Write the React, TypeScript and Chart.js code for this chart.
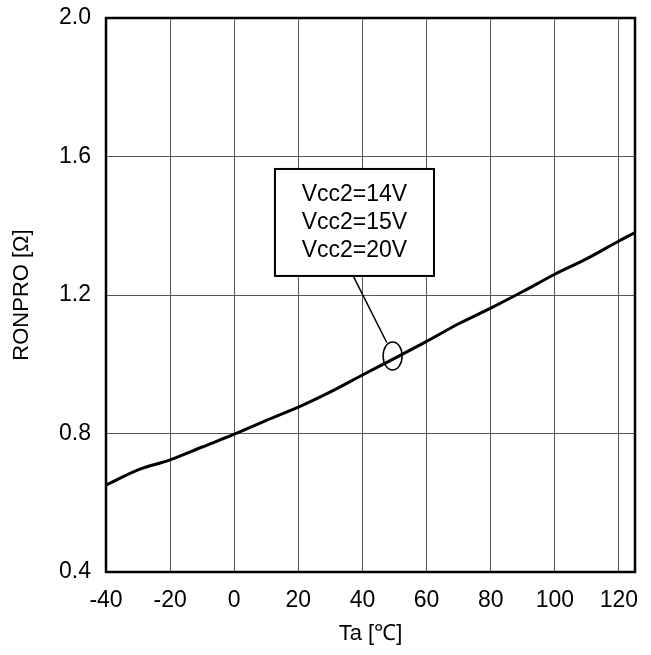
import React, { useEffect, useRef } from "react";
import { Chart, registerables } from "chart.js";

Chart.register(...registerables);

const temps = [-40, -30, -20, -10, 0, 10, 20, 30, 40, 50, 60, 70, 80, 90, 100, 110, 120, 125];
const ronpro = [0.651, 0.695, 0.724, 0.761, 0.798, 0.838, 0.876, 0.92, 0.969, 1.017, 1.066, 1.117, 1.162, 1.21, 1.26, 1.305, 1.356, 1.38];
const xTicks = [-40, -20, 0, 20, 40, 60, 80, 100, 120];
const yTicks = [0.4, 0.8, 1.2, 1.6, 2.0];
const legendLines = ["Vcc2=14V", "Vcc2=15V", "Vcc2=20V"];

const FONT = "Arial, 'Liberation Sans', sans-serif";

const framePlugin = {
  id: "frame",
  afterDatasetsDraw(chart: any) {
    const { ctx, chartArea, scales } = chart;
    const x = scales.x;
    const y = scales.y;
    ctx.save();
    // annotation box
    const bl = x.getPixelForValue(12.7);
    const br = x.getPixelForValue(62.3);
    const bt = y.getPixelForValue(1.564);
    const bb = y.getPixelForValue(1.255);
    ctx.fillStyle = "#fff";
    ctx.fillRect(bl, bt, br - bl, bb - bt);
    ctx.strokeStyle = "#000";
    ctx.lineWidth = 2;
    ctx.strokeRect(bl, bt, br - bl, bb - bt);
    ctx.fillStyle = "#000";
    ctx.font = "23px " + FONT;
    ctx.textAlign = "center";
    ctx.textBaseline = "middle";
    const cx = (bl + br) / 2;
    const lh = 28;
    const cy = (bt + bb) / 2;
    legendLines.forEach((t, i) => {
      ctx.fillText(t, cx, cy + (i - 1) * lh);
    });
    // leader line
    ctx.lineWidth = 1.5;
    ctx.beginPath();
    ctx.moveTo(x.getPixelForValue(37.1), bb);
    ctx.lineTo(x.getPixelForValue(47.6), y.getPixelForValue(1.062));
    ctx.stroke();
    // ellipse
    ctx.lineWidth = 1.5;
    ctx.beginPath();
    ctx.ellipse(x.getPixelForValue(49.4), y.getPixelForValue(1.024), 9.5, 14, 0, 0, Math.PI * 2);
    ctx.stroke();
    // frame
    ctx.lineWidth = 2.5;
    ctx.strokeRect(chartArea.left, chartArea.top, chartArea.right - chartArea.left, chartArea.bottom - chartArea.top);
    ctx.restore();
  },
};

export default function App() {
  const ref = useRef<HTMLCanvasElement>(null);
  useEffect(() => {
    if (!ref.current) return;
    const chart = new Chart(ref.current, {
      type: "line",
      data: {
        datasets: [
          {
            data: temps.map((t, i) => ({ x: t, y: ronpro[i] })),
            borderColor: "#000",
            borderWidth: 3,
            pointRadius: 0,
            cubicInterpolationMode: "monotone",
            fill: false,
          },
        ],
      },
      options: {
        animation: false,
        responsive: true,
        maintainAspectRatio: false,
        layout: { padding: { top: 18, right: 16, left: 0, bottom: 0 } },
        plugins: { legend: { display: false }, tooltip: { enabled: false } },
        scales: {
          x: {
            type: "linear",
            min: -40,
            max: 125,
            afterBuildTicks: (s: any) => {
              s.ticks = xTicks.map((v) => ({ value: v }));
            },
            afterFit: (s: any) => {
              s.height = 83;
              s.paddingLeft = 0;
              s.paddingRight = 0;
            },
            grid: { color: "#555", lineWidth: 1, drawTicks: false },
            border: { display: false },
            ticks: {
              color: "#000",
              font: { family: FONT, size: 23 },
              padding: 15,
              maxRotation: 0,
              autoSkip: false,
              callback: (v: any) => String(v),
            },
            title: {
              display: true,
              text: "Ta [℃]",
              color: "#000",
              font: { family: FONT, size: 22 },
              padding: 8,
            },
          },
          y: {
            type: "linear",
            min: 0.4,
            max: 2.0,
            afterBuildTicks: (s: any) => {
              s.ticks = yTicks.map((v) => ({ value: v }));
            },
            afterFit: (s: any) => {
              s.width = 106;
              s.paddingTop = 0;
              s.paddingBottom = 0;
            },
            grid: { color: "#555", lineWidth: 1, drawTicks: false },
            border: { display: false },
            ticks: {
              color: "#000",
              font: { family: FONT, size: 23 },
              padding: 15,
              autoSkip: false,
              callback: (v: any) => Number(v).toFixed(1),
            },
            title: {
              display: true,
              text: "RONPRO [Ω]",
              color: "#000",
              font: { family: FONT, size: 22 },
              padding: 9,
            },
          },
        },
      },
      plugins: [framePlugin],
    });
    return () => chart.destroy();
  }, []);
  return (
    <div style={{ position: "fixed", left: 0, top: 0, width: 651, height: 655, background: "#fff" }}>
      <canvas ref={ref} />
    </div>
  );
}
